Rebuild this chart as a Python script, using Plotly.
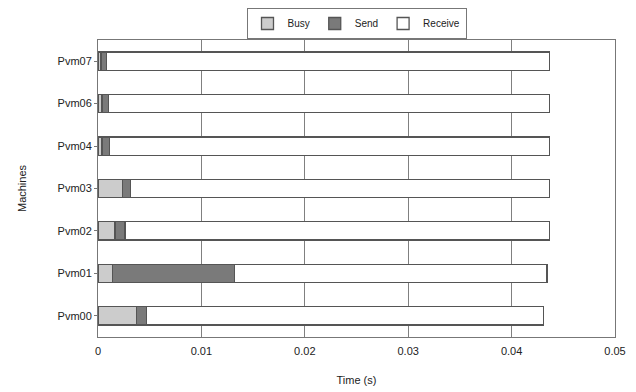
import plotly.graph_objects as go

machines = ["Pvm00", "Pvm01", "Pvm02", "Pvm03", "Pvm04", "Pvm06", "Pvm07"]
busy = [0.00375, 0.0014, 0.00165, 0.0024, 0.0004, 0.0004, 0.0003]
send = [0.00097, 0.0118, 0.00097, 0.00077, 0.0007, 0.0006, 0.00055]
total = [0.0431, 0.04343, 0.04366, 0.04366, 0.04366, 0.04366, 0.04366]
receive = [t - b - s for t, b, s in zip(total, busy, send)]
x_ticks = [0, 0.01, 0.02, 0.03, 0.04, 0.05]
x_tick_labels = ["0", "0.01", "0.02", "0.03", "0.04", "0.05"]

line = dict(color="#555555", width=1.3)
fig = go.Figure()
fig.add_trace(go.Bar(y=machines, x=busy, name="Busy", orientation="h",
                     marker=dict(color="#cccccc", line=line)))
fig.add_trace(go.Bar(y=machines, x=send, name="Send", orientation="h",
                     marker=dict(color="#7a7a7a", line=line)))
fig.add_trace(go.Bar(y=machines, x=receive, name="Receive", orientation="h",
                     marker=dict(color="#ffffff", line=line)))

fig.update_layout(
    width=628, height=384,
    barmode="stack", bargap=0.57,
    paper_bgcolor="white", plot_bgcolor="white",
    margin=dict(l=90, r=21, t=32, b=55, autoexpand=False),
    font=dict(family="Liberation Sans, Arial, sans-serif", size=11, color="#222222"),
    legend=dict(orientation="h", x=0.5, xanchor="center",
                yref="container", y=1.0, yanchor="top",
                bordercolor="#777777", borderwidth=1,
                font=dict(size=10), itemwidth=30, traceorder="normal",
                tracegroupgap=0),
    showlegend=True,
)
fig.update_xaxes(range=[0, 0.05], tickvals=x_ticks, ticktext=x_tick_labels,
                 showgrid=True, gridcolor="#808080", gridwidth=1,
                 showline=True, linecolor="#777777", linewidth=1, mirror=True,
                 ticks="", ticklabelstandoff=4, zeroline=False, automargin=False,
                 title=dict(text="Time (s)", standoff=20, font=dict(size=11)))
fig.update_yaxes(categoryorder="array", categoryarray=machines,
                 showline=True, linecolor="#777777", linewidth=1, mirror=True,
                 ticks="outside", ticklen=3, tickcolor="#777777",
                 showgrid=False, automargin=False,
                 title=dict(text="Machines", standoff=28, font=dict(size=11)))
fig.write_html("out.html")
